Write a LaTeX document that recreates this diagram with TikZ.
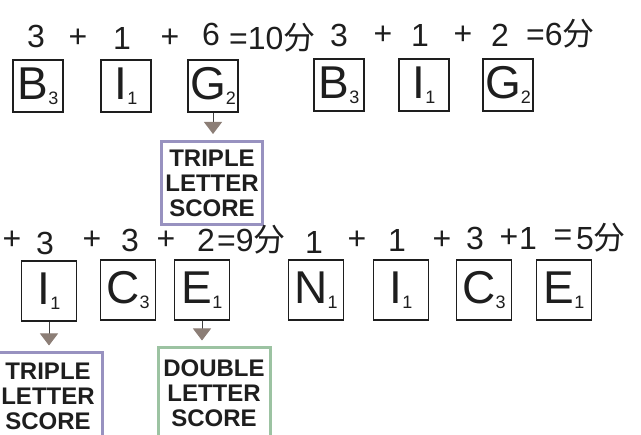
\documentclass[tikz,border=0pt]{standalone}
\usepackage{fontspec}
\setmainfont{Liberation Sans}
\newfontfamily\cjk{Noto Sans CJK SC}
\usetikzlibrary{arrows.meta}
\definecolor{ink}{HTML}{1E1E1E}
\definecolor{lav}{HTML}{9892C0}
\definecolor{sage}{HTML}{9CC3A2}
\definecolor{tipc}{HTML}{8C7E76}
\newcommand{\tilelabel}[2]{{\fontsize{46}{46}\selectfont #1}\raisebox{-5pt}{\fontsize{18}{18}\selectfont #2}}
\begin{document}
\begin{tikzpicture}[x=1pt,y=-1pt,
  tilebox/.style={draw=ink, line width=1.6pt, minimum width=50pt, minimum height=52pt, inner sep=0pt, text=ink},
  tilebig/.style={tilebox, minimum width=55pt, minimum height=60pt},
  eq/.style={font=\fontsize{32}{32}\selectfont, text=ink, inner sep=0pt},
  score/.style={line width=3pt, align=center, inner sep=0pt, font=\bfseries\fontsize{24}{25}\selectfont, text=ink},
  arr/.style={draw=ink!85, line width=1pt, -{Triangle[width=18pt,length=12pt,fill=tipc,color=tipc]}, shorten >=6pt}]
\useasboundingbox (0,0) rectangle (641,435);
\clip (0,0) rectangle (641,435);
% top row tiles
\node[tilebox] (B1) at (38,86) {\tilelabel{B}{3}};
\node[tilebox] (I1) at (126,86) {\tilelabel{I}{1}};
\node[tilebox] (G1) at (213,86) {\tilelabel{G}{2}};
\node[tilebox] (B2) at (339,85) {\tilelabel{B}{3}};
\node[tilebox] (I2) at (424,85) {\tilelabel{I}{1}};
\node[tilebox] (G2) at (508,85) {\tilelabel{G}{2}};
% top equations
\node[eq] (t1a) at (36,36) {3};
\node[eq] (t1p) at (78,38) {+};
\node[eq] (t1b) at (122,38) {1};
\node[eq] (t1q) at (170,38) {+};
\node[eq] (t1c) at (211,34) {6};
\node[eq,anchor=west] (t1r) at (229,38) {=10{\cjk 分}};
\node[eq] (t2a) at (339,35) {3};
\node[eq] (t2p) at (383,35) {+};
\node[eq] (t2b) at (420,35) {1};
\node[eq] (t2q) at (463,35) {+};
\node[eq] (t2c) at (500,35) {2};
\node[eq,anchor=west] (t2r) at (526,34) {=6{\cjk 分}};
% top score box
\node[score, draw=lav, minimum width=101pt, minimum height=83pt] (tls1) at (212,183) {TRIPLE\\LETTER\\SCORE};
\draw[arr] (G1.south) -- (G1.south |- tls1.north);
% bottom row tiles
\node[tilebig] (I3) at (49,291) {\tilelabel{I}{1}};
\node[tilebig] (C3) at (128,290) {\tilelabel{C}{3}};
\node[tilebig] (E3) at (202,290) {\tilelabel{E}{1}};
\node[tilebig] (N4) at (316,290) {\tilelabel{N}{1}};
\node[tilebig] (I4) at (401,290) {\tilelabel{I}{1}};
\node[tilebig] (C4) at (484,290) {\tilelabel{C}{3}};
\node[tilebig] (E4) at (564,290) {\tilelabel{E}{1}};
% bottom equations
\node[eq] (b1o) at (12,240) {+};
\node[eq] (b1a) at (45,243) {3};
\node[eq] (b1p) at (92,240) {+};
\node[eq] (b1b) at (130,240) {3};
\node[eq] (b1q) at (166,240) {+};
\node[eq] (b1c) at (206,240) {2};
\node[eq,anchor=west] (b1r) at (217,240) {=9{\cjk 分}};
\node[eq] (b2a) at (314,242) {1};
\node[eq] (b2p) at (357,240) {+};
\node[eq] (b2b) at (397,240) {1};
\node[eq] (b2q) at (442,240) {+};
\node[eq] (b2c) at (475,238) {3};
\node[eq] (b2s) at (509,238) {+};
\node[eq] (b2d) at (528,238) {1};
\node[eq] (b2e) at (563,238) {=};
\node[eq,anchor=west] (b2r) at (576,238) {5{\cjk 分}};
% bottom score boxes
\node[score, draw=lav, minimum width=108pt, minimum height=86pt] (tls2) at (48,396) {TRIPLE\\LETTER\\SCORE};
\node[score, draw=sage, minimum width=112pt, minimum height=90pt] (dls) at (214,393) {DOUBLE\\LETTER\\SCORE};
\draw[arr] (I3.south) -- (I3.south |- tls2.north);
\draw[arr] (E3.south) -- (E3.south |- dls.north);
\end{tikzpicture}
\end{document}
